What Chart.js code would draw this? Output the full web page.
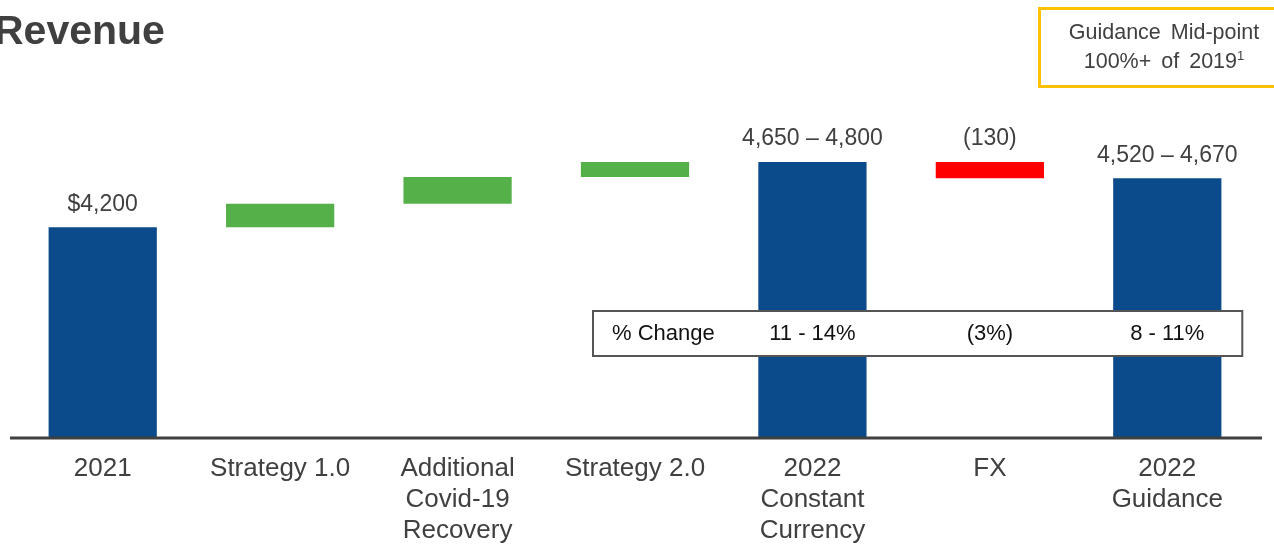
<!DOCTYPE html>
<html>
<head>
<meta charset="utf-8">
<script src="https://cdn.jsdelivr.net/npm/chart.js@4.4.1/dist/chart.umd.min.js"></script>
<style>
  html, body { margin: 0; padding: 0; background: #fff; overflow: hidden; }
  #wrap { position: relative; width: 1274px; height: 545px; }
  #chart { position: absolute; left: 0; top: 0; }
  #title {
    position: absolute; left: -6px; top: 7px;
    font: bold 41px "Liberation Sans", Arial, sans-serif; color: #404040;
  }
  #guide {
    position: absolute; left: 1038px; top: 7px; width: 246px; height: 67px;
    border: 3px solid #FFC000; box-sizing: content-box;
    font: 21.5px "Liberation Sans", Arial, sans-serif; color: #404040;
    text-align: center; line-height: 29px; padding-top: 8px; word-spacing: 4px;
  }
  #guide sup { font-size: 13px; vertical-align: 8px; line-height: 0; color: #404040; }
</style>
</head>
<body>
<div id="wrap">
  <canvas id="chart" width="1274" height="545"></canvas>
  <div id="title">Revenue</div>
  <div id="guide">Guidance Mid-point<br>100%+ of 2019<sup>1</sup></div>
</div>
<script>
// bridge categories, values
const categories = ['2021', 'Strategy 1.0', ['Additional', 'Covid-19', 'Recovery'], 'Strategy 2.0',
  ['2022', 'Constant', 'Currency'], 'FX', ['2022', 'Guidance']];
const totals = [4200, null, null, null, 4725, null, 4595];
const changes = [null, 190, 215, 120, null, -130, null];
const barLabels = ['$4,200', '', '', '', '4,650 \u2013 4,800', '(130)', '4,520 \u2013 4,670'];
const pctTitle = '% Change';
const pctChange = ['', '', '', '', '11 - 14%', '(3%)', '8 - 11%'];

const Y_MIN = 2500;
const Y_MAX = 5000;
const FONT = '"Liberation Sans", Arial, sans-serif';

// build floating bars from the running total
let running = 0;
const bars = [];
const colors = [];
for (let i = 0; i < categories.length; i++) {
  if (totals[i] !== null) {
    running = totals[i];
    bars.push([Y_MIN, totals[i]]);
    colors.push('#0B4A8B');
  } else {
    const next = running + changes[i];
    bars.push([Math.min(running, next), Math.max(running, next)]);
    colors.push(changes[i] < 0 ? '#FF0000' : '#56B04A');
    running = next;
  }
}

const overlay = {
  id: 'overlay',
  afterDatasetsDraw(chart) {
    const ctx = chart.ctx;
    const area = chart.chartArea;
    const x = chart.scales.x;
    const meta = chart.getDatasetMeta(0);

    // base line
    ctx.save();
    ctx.strokeStyle = '#404040';
    ctx.lineWidth = 3;
    ctx.beginPath();
    ctx.moveTo(10, area.bottom);
    ctx.lineTo(1262, area.bottom);
    ctx.stroke();

    // labels above bars
    ctx.fillStyle = '#404040';
    ctx.font = '23px ' + FONT;
    ctx.textAlign = 'center';
    ctx.textBaseline = 'middle';
    meta.data.forEach((el, i) => {
      if (!barLabels[i]) return;
      const top = Math.min(el.y, el.base);
      ctx.fillText(barLabels[i], el.x, top - 23);
    });

    // % change box
    const left = x.getPixelForValue(3) - 42;
    const right = x.getPixelForValue(6) + 75;
    ctx.fillStyle = '#fff';
    ctx.fillRect(left, 311, right - left, 45);
    ctx.strokeStyle = '#555';
    ctx.lineWidth = 2;
    ctx.strokeRect(left, 311, right - left, 45);
    ctx.fillStyle = '#111';
    ctx.font = '22px ' + FONT;
    ctx.textAlign = 'left';
    ctx.fillText(pctTitle, left + 19, 334);
    ctx.textAlign = 'center';
    pctChange.forEach((t, i) => {
      if (t) ctx.fillText(t, x.getPixelForValue(i), 334);
    });
    ctx.restore();
  }
};

new Chart(document.getElementById('chart'), {
  type: 'bar',
  data: {
    labels: categories,
    datasets: [{
      data: bars,
      backgroundColor: colors,
      borderWidth: 0,
      categoryPercentage: 1,
      barPercentage: 0.61
    }]
  },
  options: {
    responsive: false,
    animation: false,
    layout: { padding: { left: 14, right: 18, top: 128, bottom: -16 } },
    plugins: { legend: { display: false }, tooltip: { enabled: false } },
    scales: {
      x: {
        grid: { display: false, drawTicks: false },
        border: { display: false },
        ticks: {
          color: '#404040',
          padding: 15,
          maxRotation: 0,
          autoSkip: false,
          font: { family: FONT, size: 26, lineHeight: '31px' }
        }
      },
      y: { display: false, min: Y_MIN, max: Y_MAX }
    }
  },
  plugins: [overlay]
});
</script>
</body>
</html>
